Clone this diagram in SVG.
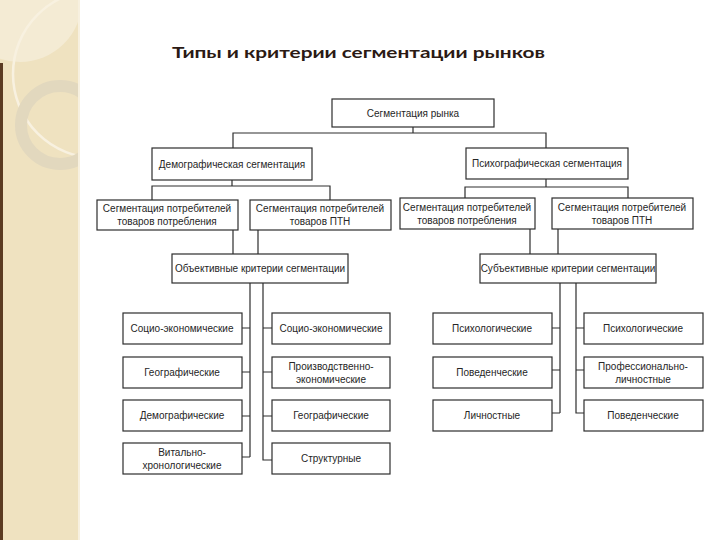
<svg xmlns="http://www.w3.org/2000/svg" width="720" height="540" viewBox="0 0 720 540">
<defs>
<style>
.box{fill:#ffffff;stroke:#2e2e2e;stroke-width:1.2}
.t{font-family:"Liberation Sans",Arial,sans-serif;font-size:10px;fill:#262626;text-anchor:middle}
.c{fill:none;stroke:#2e2e2e;stroke-width:1.2}
.title{font-family:Lato,"Open Sans",sans-serif;font-weight:700;font-size:16px;fill:#2b1a14}
</style>
<clipPath id="strip"><rect x="0" y="0" width="79" height="540"/></clipPath>
</defs>
<rect x="0" y="0" width="720" height="540" fill="#ffffff"/>
<g id="decor">
<rect x="0" y="0" width="79" height="540" fill="#efe2c0"/>
<g clip-path="url(#strip)">
<circle cx="20" cy="0" r="62" fill="#f4ebd4"/>
<circle cx="97" cy="74" r="84" fill="none" stroke="#f8f1e0" stroke-width="2.5"/>
<circle cx="60" cy="125" r="39" fill="none" stroke="#e2d8be" stroke-width="12"/>
</g>
<rect x="0" y="63" width="3" height="477" fill="#5b3b22"/>
<rect x="78" y="0" width="2" height="540" fill="#f7f0df"/>
</g>
<text class="title" x="172" y="58" textLength="373" lengthAdjust="spacingAndGlyphs">Типы и критерии сегментации рынков</text>
<g id="connectors">
<path class="c" d="M413,127 V133 M233,148 V133 H546 V148"/>
<path class="c" d="M232,180 V186 M152,200 V186 H330 V200"/>
<path class="c" d="M546,179 V187 M465,198 V187 H628 V198"/>
<path class="c" d="M233,230 V254 M258,230 V254"/>
<path class="c" d="M530,229 V254 M558,229 V254"/>
<path class="c" d="M250,283 V457 M242,328 H250 M242,372 H250 M242,416 H250 M242,457 H250"/>
<path class="c" d="M263,283 V460 H272 M263,328 H272 M263,372 H272 M263,416 H272"/>
<path class="c" d="M560,283 V413 M552,328 H560 M552,370 H560 M552,413 H560"/>
<path class="c" d="M576,283 V413 H584 M576,328 H584 M576,370 H584"/>
</g>
<g id="n_root"><rect class="box" x="332" y="99" width="162" height="28"/><text class="t" x="413" y="117">Сегментация рынка</text></g>
<g id="n_dem"><rect class="box" x="152" y="148" width="160" height="32"/><text class="t" x="232" y="168">Демографическая сегментация</text></g>
<g id="n_psy"><rect class="box" x="466" y="148" width="162" height="31"/><text class="t" x="547" y="167">Психографическая сегментация</text></g>
<g id="n_dem1"><rect class="box" x="97" y="200" width="141" height="30"/><text class="t" x="167" y="212">Сегментация потребителей</text><text class="t" x="167" y="225">товаров потребления</text></g>
<g id="n_dem2"><rect class="box" x="250" y="200" width="141" height="30"/><text class="t" x="320" y="212">Сегментация потребителей</text><text class="t" x="320" y="225">товаров ПТН</text></g>
<g id="n_psy1"><rect class="box" x="400" y="198" width="135" height="31"/><text class="t" x="467" y="211">Сегментация потребителей</text><text class="t" x="467" y="224">товаров потребления</text></g>
<g id="n_psy2"><rect class="box" x="552" y="198" width="141" height="31"/><text class="t" x="622" y="211">Сегментация потребителей</text><text class="t" x="622" y="224">товаров ПТН</text></g>
<g id="n_obj"><rect class="box" x="172" y="254" width="176" height="29"/><text class="t" x="260" y="272">Объективные критерии сегментации</text></g>
<g id="n_subj"><rect class="box" x="480" y="254" width="176" height="29"/><text class="t" x="568" y="272">Субъективные критерии сегментации</text></g>
<g id="n_l1"><rect class="box" x="123" y="313" width="119" height="31"/><text class="t" x="182" y="332">Социо-экономические</text></g>
<g id="n_l2"><rect class="box" x="123" y="357" width="119" height="31"/><text class="t" x="182" y="376">Географические</text></g>
<g id="n_l3"><rect class="box" x="123" y="400" width="119" height="31"/><text class="t" x="182" y="419">Демографические</text></g>
<g id="n_l4"><rect class="box" x="123" y="443" width="119" height="31"/><text class="t" x="182" y="456">Витально-</text><text class="t" x="182" y="469">хронологические</text></g>
<g id="n_r1"><rect class="box" x="272" y="313" width="118" height="31"/><text class="t" x="331" y="332">Социо-экономические</text></g>
<g id="n_r2"><rect class="box" x="272" y="357" width="118" height="31"/><text class="t" x="331" y="370">Производственно-</text><text class="t" x="331" y="383">экономические</text></g>
<g id="n_r3"><rect class="box" x="272" y="400" width="118" height="31"/><text class="t" x="331" y="419">Географические</text></g>
<g id="n_r4"><rect class="box" x="272" y="443" width="118" height="31"/><text class="t" x="331" y="462">Структурные</text></g>
<g id="n_p1"><rect class="box" x="433" y="313" width="119" height="31"/><text class="t" x="492" y="332">Психологические</text></g>
<g id="n_p2"><rect class="box" x="433" y="357" width="119" height="31"/><text class="t" x="492" y="376">Поведенческие</text></g>
<g id="n_p3"><rect class="box" x="433" y="400" width="119" height="31"/><text class="t" x="492" y="419">Личностные</text></g>
<g id="n_q1"><rect class="box" x="584" y="313" width="119" height="31"/><text class="t" x="643" y="332">Психологические</text></g>
<g id="n_q2"><rect class="box" x="584" y="357" width="119" height="31"/><text class="t" x="643" y="370">Профессионально-</text><text class="t" x="643" y="383">личностные</text></g>
<g id="n_q3"><rect class="box" x="584" y="400" width="119" height="31"/><text class="t" x="643" y="419">Поведенческие</text></g>
</svg>
